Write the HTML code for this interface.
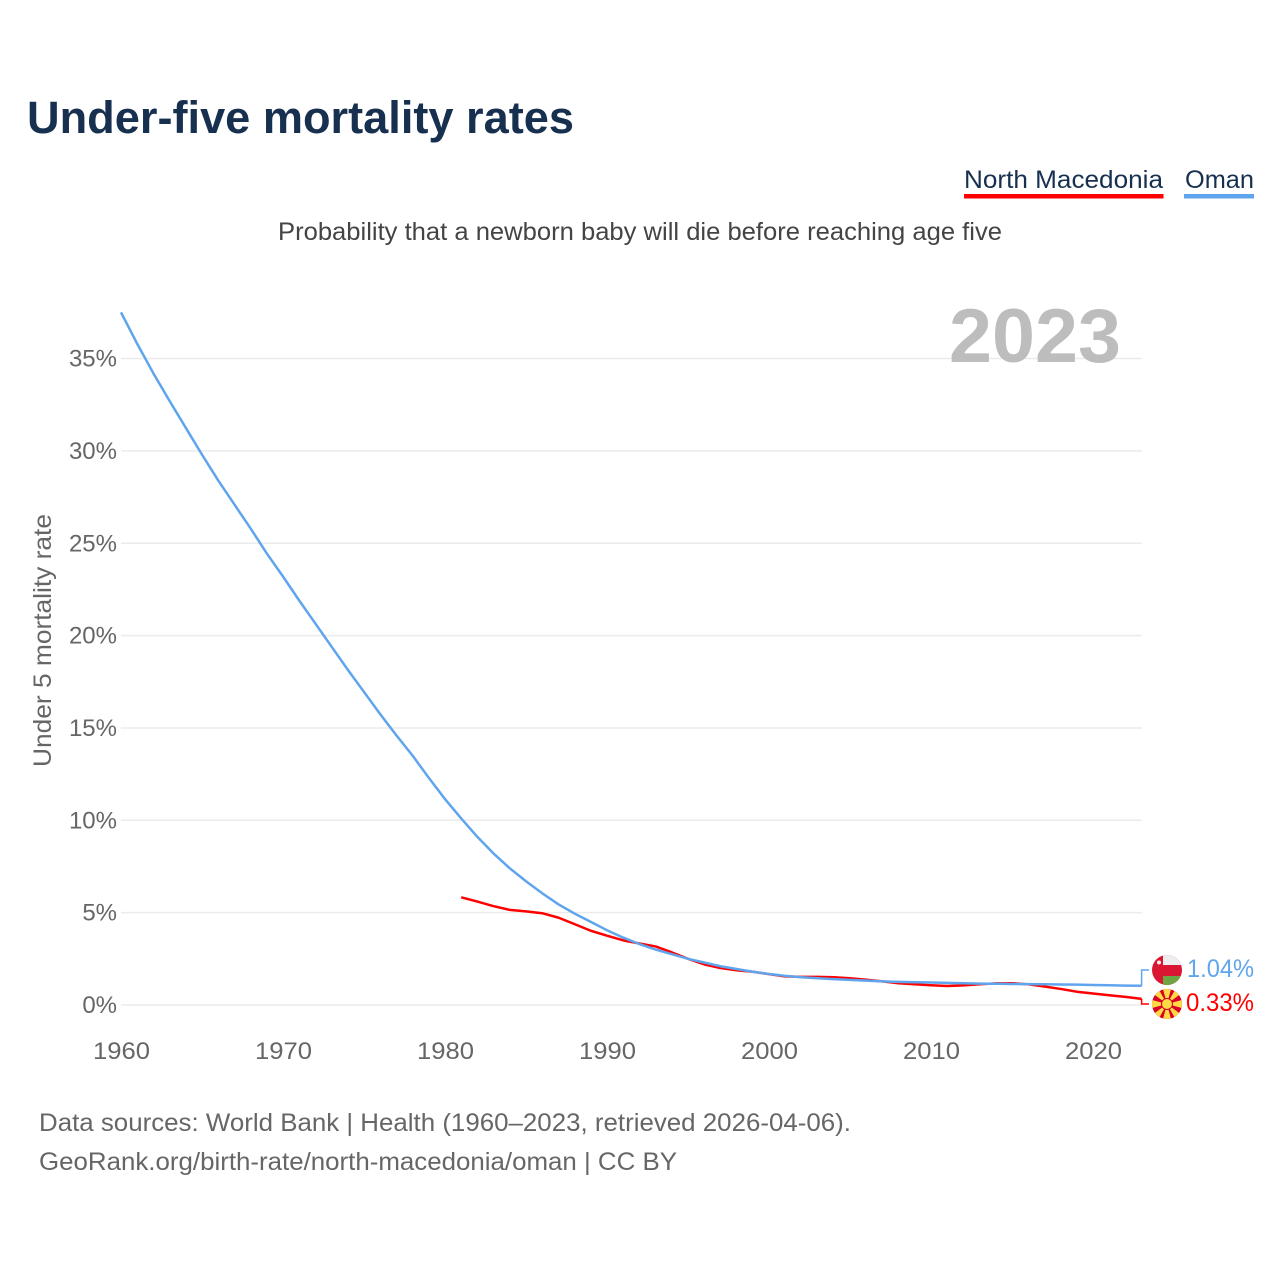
<!DOCTYPE html>
<html lang="en">
<head>
<meta charset="utf-8">
<title>Under-five mortality rates</title>
<style>
html,body{margin:0;padding:0;background:#fff;}
svg{display:block;font-family:"Liberation Sans",sans-serif;}
</style>
</head>
<body>
<svg id="chart" xmlns="http://www.w3.org/2000/svg" width="1280" height="1280" viewBox="0 0 1280 1280">
  <rect x="0" y="0" width="1280" height="1280" fill="#ffffff"/>
  <text x="27" y="133" font-size="45" font-weight="700" fill="#17304f" textLength="547" lengthAdjust="spacingAndGlyphs">Under-five mortality rates</text>

  <g>
    <text x="964" y="188" font-size="25" fill="#17304f" textLength="199" lengthAdjust="spacingAndGlyphs">North Macedonia</text>
    <rect x="964" y="194" width="199.500" height="4.500" fill="#ff0000"/>
  </g>
  <g>
    <text x="1185" y="188" font-size="25" fill="#17304f" textLength="69" lengthAdjust="spacingAndGlyphs">Oman</text>
    <rect x="1184" y="194" width="70" height="4.500" fill="#5fa5ee"/>
  </g>

  <text x="278" y="240" font-size="25" fill="#444444" textLength="724" lengthAdjust="spacingAndGlyphs">Probability that a newborn baby will die before reaching age five</text>

  <g id="grid"></g>
  <text x="949" y="362" font-size="76" font-weight="700" fill="#bdbdbd" textLength="172" lengthAdjust="spacingAndGlyphs">2023</text>
  <g id="yticks"></g>
  <g id="xticks"></g>
  <text transform="translate(51 767) rotate(-90)" x="0" y="0" font-size="25" fill="#666666" textLength="253" lengthAdjust="spacingAndGlyphs">Under 5 mortality rate</text>

  <g id="series"></g>
  <g id="connectors"></g>

  <defs>
    <clipPath id="clip-om"><circle cx="1167" cy="970" r="15"/></clipPath>
    <clipPath id="clip-mk"><circle cx="1167" cy="1004" r="15"/></clipPath>
  </defs>
  <g clip-path="url(#clip-om)">
    <rect x="1152" y="955" width="30" height="30" fill="#db1632"/>
    <rect x="1163" y="955" width="19" height="10" fill="#eeeeee"/>
    <rect x="1163" y="976" width="19" height="9" fill="#6da544"/>
    <circle cx="1159" cy="962.500" r="2" fill="#eeeeee"/>
  </g>
  <g id="mk-flag" clip-path="url(#clip-mk)">
    <rect x="1152" y="989" width="30" height="30" fill="#d80027"/>
    <path d="M1163 989h8l-4 15zM1163 1019h8l-4-15zM1152 1000v8l15-4zM1182 1000v8l-15-4zM1153.500 994l5-5 8.500 15zM1180.500 1014l-5 5-8.500-15zM1175.500 989l5 5-13.500 10zM1158.500 1019l-5-5 13.500-10z" fill="#ffda44"/>
    <circle cx="1167" cy="1004" r="5.500" fill="#ffda44" stroke="#d80027" stroke-width="1"/>
  </g>

  <text id="label-om" x="1187" y="977" font-size="25" fill="#5fa5ee" textLength="67" lengthAdjust="spacingAndGlyphs"></text>
  <text id="label-mk" x="1186" y="1011" font-size="25" fill="#ff0000" textLength="68" lengthAdjust="spacingAndGlyphs"></text>

  <text x="39" y="1131" font-size="25" fill="#666666" textLength="812" lengthAdjust="spacingAndGlyphs">Data sources: World Bank | Health (1960–2023, retrieved 2026-04-06).</text>
  <text x="39" y="1170" font-size="25" fill="#666666" textLength="638" lengthAdjust="spacingAndGlyphs">GeoRank.org/birth-rate/north-macedonia/oman | CC BY</text>
</svg>
<script>
const omanStartYear = 1960;
const omanValues = [37.5,35.8,34.2,32.7,31.25,29.8,28.4,27.1,25.8,24.45,23.2,21.9,20.65,19.4,18.15,16.95,15.75,14.6,13.5,12.3,11.15,10.1,9.1,8.2,7.4,6.7,6.05,5.45,4.95,4.5,4.05,3.65,3.3,3.0,2.75,2.5,2.3,2.1,1.95,1.8,1.68,1.58,1.5,1.45,1.4,1.36,1.32,1.28,1.25,1.23,1.22,1.2,1.18,1.16,1.15,1.14,1.13,1.12,1.11,1.1,1.08,1.07,1.05,1.04];
const macedoniaStartYear = 1981;
const macedoniaValues = [5.83,5.6,5.35,5.15,5.07,4.97,4.73,4.38,4.02,3.75,3.5,3.33,3.17,2.85,2.5,2.2,2.0,1.88,1.8,1.67,1.55,1.52,1.52,1.5,1.45,1.37,1.28,1.18,1.12,1.07,1.03,1.06,1.12,1.17,1.18,1.12,1.0,0.87,0.72,0.62,0.53,0.44,0.33];
const yTickValues = [0,5,10,15,20,25,30,35];
const xTickYears = [1960,1970,1980,1990,2000,2010,2020];

const NS = 'http://www.w3.org/2000/svg';
const xScale = function (year) { return 121 + (year - 1960) * 16.2; };
const yScale = function (pct) { return 1005 - pct * 18.47; };

function make(tag, parent, attrs) {
  const el = document.createElementNS(NS, tag);
  for (const k in attrs) { el.setAttribute(k, attrs[k]); }
  parent.appendChild(el);
  return el;
}

const grid = document.getElementById('grid');
const yticks = document.getElementById('yticks');
yTickValues.forEach(function (v) {
  const line = make('line', grid, {x1: 121, x2: 1142, y1: yScale(v), y2: yScale(v), stroke: '#ebebeb', 'stroke-width': 1.5});
  
  
  const t = make('text', yticks, {x: 117, y: yScale(v) + 8, 'text-anchor': 'end', 'font-size': 24, fill: '#666666'});
  
  
  t.textContent = v + '%';
});

const xticks = document.getElementById('xticks');
xTickYears.forEach(function (y) {
  const t = make('text', xticks, {x: xScale(y) - 28, y: 1059, 'font-size': 24, fill: '#666666', textLength: 57, lengthAdjust: 'spacingAndGlyphs'});
  
  
  t.textContent = y;
});

function linePoints(startYear, values) {
  return values.map(function (v, i) {
    return xScale(startYear + i).toFixed(2) + ',' + yScale(v).toFixed(2);
  }).join(' ');
}

const series = document.getElementById('series');
const mkLine = make('polyline', series, {points: linePoints(macedoniaStartYear, macedoniaValues), fill: 'none', stroke: '#ff0000', 'stroke-width': 2.5, 'stroke-linejoin': 'round'});


const omLine = make('polyline', series, {points: linePoints(omanStartYear, omanValues), fill: 'none', stroke: '#5fa5ee', 'stroke-width': 2.5, 'stroke-linejoin': 'round'});



const connectors = document.getElementById('connectors');
const omanLast = omanValues[omanValues.length - 1];
const mkLast = macedoniaValues[macedoniaValues.length - 1];
const endX = xScale(2023);
const omC = make('polyline', connectors, {points: endX + ',' + yScale(omanLast) + ' ' + endX + ',970 1149,970', fill: 'none', stroke: '#5fa5ee', 'stroke-width': 1.5});


const mkC = make('polyline', connectors, {points: endX + ',' + yScale(mkLast) + ' ' + endX + ',1004 1149,1004', fill: 'none', stroke: '#ff0000', 'stroke-width': 1.5});



document.getElementById('label-om').textContent = omanLast.toFixed(2) + '%';
document.getElementById('label-mk').textContent = mkLast.toFixed(2) + '%';
</script>
</body>
</html>
